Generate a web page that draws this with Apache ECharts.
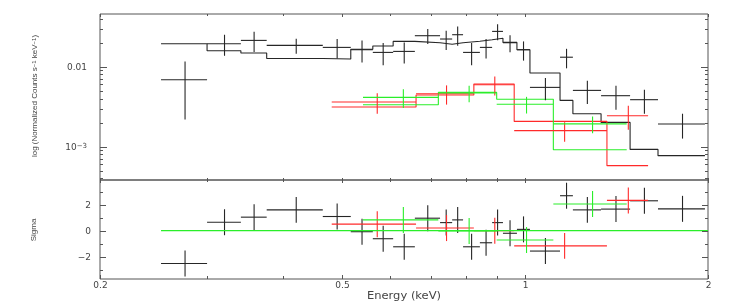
<!DOCTYPE html>
<html><head><meta charset="utf-8">
<script src="https://cdn.jsdelivr.net/npm/echarts@6/dist/echarts.min.js"></script>
<style>html,body{margin:0;padding:0;background:#fff}#c{width:747px;height:305px}</style>
</head><body><div id="c"></div>
<script>
// ---------- data (energies in keV) ----------
const blackLo = [0.252,0.300,0.341,0.376,0.465,0.517,0.562,0.607,0.659,0.725,0.759,0.791,0.843,0.883,0.920,0.970,1.019,1.142,1.199,1.334,1.489,1.655];
const blackHi = [0.300,0.341,0.376,0.465,0.517,0.562,0.607,0.659,0.725,0.759,0.791,0.843,0.883,0.920,0.970,1.019,1.142,1.199,1.334,1.489,1.655,1.977];
const blackE  = [0.276,0.3205,0.3585,0.4205,0.491,0.5395,0.5845,0.633,0.692,0.742,0.775,0.817,0.863,0.9015,0.945,0.9945,1.0805,1.1705,1.2665,1.4115,1.572,1.816];
const blackRate = [0.00688,0.01939,0.02132,0.01846,0.01743,0.01631,0.01509,0.01553,0.02441,0.02219,0.02512,0.01509,0.01743,0.02763,0.01995,0.01631,0.005512,0.01314,0.005055,0.00434,0.003868,0.001922];
const blackErr  = [0.0047,0.0057,0.006,0.0039,0.0048,0.005,0.0047,0.0046,0.0052,0.006,0.0068,0.0047,0.0048,0.0062,0.0048,0.0044,0.0017,0.0036,0.00163,0.00145,0.00129,0.00066];
const blackModel = [0.01939,0.01585,0.01484,0.01266,0.01248,0.01655,0.01814,0.02071,0.01995,0.01911,0.01995,0.02083,0.02175,0.02271,0.02013,0.01631,0.008345,0.00379,0.002585,0.002012,0.000925,0.000772];
const blackSigma = [-2.53,0.65,1.04,1.6,1.09,-0.08,-0.62,-1.24,0.96,0.62,0.83,-1.24,-0.93,0.62,-0.2,0.1,-1.57,2.69,1.6,1.66,2.3,1.68];

const redLo = [0.481,0.662,0.824,0.960,1.364];
const redHi = [0.662,0.824,0.960,1.364,1.594];
const redE  = [0.5715,0.743,0.892,1.162,1.479];
const redRate = [0.00362,0.004597,0.005957,0.001585,0.00244];
const redErr  = [0.00104,0.00124,0.0016,0.00043,0.00081];
const redModel = [0.003134,0.004428,0.006077,0.002071,0.000579];
const redSigma = [0.5,0.2,0.0,-1.17,2.33];

const greenLo = [0.5415,0.7203,0.8984,1.1134];
const greenHi = [0.7203,0.8984,1.1134,1.470];
const greenE  = [0.6309,0.8094,1.0059,1.2917];
const greenRate = [0.004132,0.004691,0.003398,0.001928];
const greenErr  = [0.00108,0.0011,0.0008,0.00046];
const greenModel = [0.00335,0.004773,0.003924,0.000917];
const greenSigma = [0.83,-0.02,-0.72,2.05];

const zeroLineE = [0.252, 2.0];

// ---------- axes / ticks ----------
const xMajorTicks = [0.2, 0.5, 1, 2];
const xMajorLabels = ['0.2', '0.5', '1', '2'];
const xMinorTicks = [0.3, 0.4, 0.6, 0.7, 0.8, 0.9];
const yTopMajorTicks = [0.01, 0.001];
const yTopMinorTicks = [0.04,0.03,0.02,0.009,0.008,0.007,0.006,0.005,0.004,0.003,0.002,0.0009,0.0008,0.0007,0.0006,0.0005,0.0004];
const sigMajorTicks = [2, 0, -2];
const sigMajorLabels = ['2', '0', '\u22122'];
const sigMinorTicks = [3, 1, -1, -3];

const X_MIN = 0.2, X_MAX = 2;
const TOP_MIN = 3.83e-4, TOP_MAX = 0.0456;
const SIG_MIN = -3.72, SIG_MAX = 3.9;

const BLACK = '#262626', RED = '#ff2a2a', GREEN = '#2aee2a', FRAME = '#555', TXT = '#444';
const FONT = 'DejaVu Sans';

function crossSeries(gi, color, e, lo, hi, y, err) {
  return {
    type: 'custom', xAxisIndex: gi, yAxisIndex: gi, clip: false, silent: true, z: 3,
    data: e.map((v, i) => [v, y[i], lo[i], hi[i], y[i] - err[i], y[i] + err[i]]),
    encode: { x: 0, y: 1 },
    renderItem(params, api) {
      const l = api.coord([api.value(2), api.value(1)]);
      const r = api.coord([api.value(3), api.value(1)]);
      const c = api.coord([api.value(0), api.value(1)]);
      const b = api.coord([api.value(0), api.value(4)]);
      const t = api.coord([api.value(0), api.value(5)]);
      return { type: 'group', children: [
        { type: 'line', shape: { x1: l[0], y1: c[1], x2: r[0], y2: c[1] }, style: { stroke: color, lineWidth: 1.1 } },
        { type: 'line', shape: { x1: c[0], y1: t[1], x2: c[0], y2: b[1] }, style: { stroke: color, lineWidth: 1.1 } }
      ]};
    }
  };
}
function stepSeries(gi, color, lo, hi, m) {
  const d = lo.map((v, i) => [v, m[i]]);
  d.push([hi[hi.length - 1], m[m.length - 1]]);
  return { type: 'line', xAxisIndex: gi, yAxisIndex: gi, step: 'end', data: d, showSymbol: false, symbol: 'none',
    silent: true, z: 2, lineStyle: { color: color, width: 1.1 }, animation: false };
}
function xTickSeries(gi, yRef, topLen, botLen, labels) {
  const data = xMajorTicks.map((v, i) => [v, yRef, 1, i]).concat(xMinorTicks.map(v => [v, yRef, 0, -1]));
  return {
    type: 'custom', xAxisIndex: gi, yAxisIndex: gi, clip: false, silent: true, z: 6,
    data, encode: { x: 0, y: 1 },
    renderItem(params, api) {
      const cs = params.coordSys;
      const major = api.value(2);
      const x = Math.round(api.coord([api.value(0), api.value(1)])[0]) + 0.5;
      const lt = topLen[major], lb = botLen[major];
      const ch = [
        { type: 'line', shape: { x1: x, y1: cs.y, x2: x, y2: cs.y + lt }, style: { stroke: FRAME, lineWidth: 1 } },
        { type: 'line', shape: { x1: x, y1: cs.y + cs.height - lb, x2: x, y2: cs.y + cs.height }, style: { stroke: FRAME, lineWidth: 1 } }
      ];
      if (labels && major) {
        ch.push({ type: 'text', x: x, y: cs.y + cs.height + 7, style: { text: xMajorLabels[api.value(3)], fill: TXT,
          font: '9px "' + FONT + '"', align: 'center', verticalAlign: 'middle' } });
      }
      return { type: 'group', children: ch };
    }
  };
}
function yTickSeries(gi, majors, minors, labels, len) {
  const data = majors.map((v, i) => [X_MIN, v, 1, i]).concat(minors.map(v => [X_MIN, v, 0, -1]));
  return {
    type: 'custom', xAxisIndex: gi, yAxisIndex: gi, clip: false, silent: true, z: 6,
    data, encode: { x: 0, y: 1 },
    renderItem(params, api) {
      const cs = params.coordSys;
      const major = api.value(2);
      const y = Math.round(api.coord([api.value(0), api.value(1)])[1]) + 0.5;
      const L = len[major];
      const ch = [
        { type: 'line', shape: { x1: cs.x, y1: y, x2: cs.x + L, y2: y }, style: { stroke: FRAME, lineWidth: 1 } },
        { type: 'line', shape: { x1: cs.x + cs.width - L, y1: y, x2: cs.x + cs.width, y2: y }, style: { stroke: FRAME, lineWidth: 1 } }
      ];
      if (major) {
        ch.push({ type: 'text', x: labels.x, y: y, style: { text: labels.t[api.value(3)], fill: TXT,
          font: '9px "' + FONT + '"', align: 'right', verticalAlign: 'middle',
          rich: { s: { fontSize: 7, fontFamily: FONT, fill: TXT, verticalAlign: 'top', lineHeight: 8 } } } });
      }
      return { type: 'group', children: ch };
    }
  };
}

const chart = echarts.init(document.getElementById('c'), null, { renderer: 'canvas' });
const hiddenAxis = { axisLine: { show: false }, axisTick: { show: false }, axisLabel: { show: false }, splitLine: { show: false } };
chart.setOption({
  animation: false,
  backgroundColor: '#fff',
  grid: [
    { left: 100, top: 14, width: 608, height: 166, show: true, borderColor: FRAME, borderWidth: 1, backgroundColor: 'transparent' },
    { left: 100, top: 180, width: 608, height: 99, show: true, borderColor: FRAME, borderWidth: 1, backgroundColor: 'transparent' }
  ],
  xAxis: [
    Object.assign({ type: 'log', logBase: 10, min: X_MIN, max: X_MAX, gridIndex: 0 }, hiddenAxis),
    Object.assign({ type: 'log', logBase: 10, min: X_MIN, max: X_MAX, gridIndex: 1 }, hiddenAxis)
  ],
  yAxis: [
    Object.assign({ type: 'log', logBase: 10, min: TOP_MIN, max: TOP_MAX, gridIndex: 0 }, hiddenAxis),
    Object.assign({ type: 'value', min: SIG_MIN, max: SIG_MAX, gridIndex: 1 }, hiddenAxis)
  ],
  graphic: [
    { type: 'text', x: 35, y: 96, rotation: Math.PI / 2, silent: true,
      style: { text: 'log (Normalized Counts s{s|\u22121} keV{s|\u22121})', fill: TXT, font: '8px "Liberation Sans"',
        align: 'center', verticalAlign: 'middle',
        rich: { s: { fontSize: 6, fontFamily: 'Liberation Sans', fill: TXT, verticalAlign: 'top', lineHeight: 6 } } } },
    { type: 'text', x: 34, y: 230, rotation: Math.PI / 2, silent: true,
      style: { text: 'Sigma', fill: TXT, font: '8px "Liberation Sans"', align: 'center', verticalAlign: 'middle' } },
    { type: 'text', x: 404, y: 296, scaleX: 1.15, silent: true,
      style: { text: 'Energy (keV)', fill: TXT, font: '10px "DejaVu Sans"', align: 'center', verticalAlign: 'middle' } }
  ],
  series: [
    stepSeries(0, BLACK, blackLo, blackHi, blackModel),
    crossSeries(0, BLACK, blackE, blackLo, blackHi, blackRate, blackErr),
    stepSeries(0, RED, redLo, redHi, redModel),
    crossSeries(0, RED, redE, redLo, redHi, redRate, redErr),
    stepSeries(0, GREEN, greenLo, greenHi, greenModel),
    crossSeries(0, GREEN, greenE, greenLo, greenHi, greenRate, greenErr),
    crossSeries(1, BLACK, blackE, blackLo, blackHi, blackSigma, blackSigma.map(() => 1)),
    crossSeries(1, RED, redE, redLo, redHi, redSigma, redSigma.map(() => 1)),
    { type: 'line', xAxisIndex: 1, yAxisIndex: 1, data: zeroLineE.map(v => [v, 0]), showSymbol: false, symbol: 'none',
      silent: true, z: 4, lineStyle: { color: GREEN, width: 1.1 } },
    crossSeries(1, GREEN, greenE, greenLo, greenHi, greenSigma, greenSigma.map(() => 1)),
    xTickSeries(0, TOP_MIN, [2, 3], [2, 2], false),
    xTickSeries(1, SIG_MIN, [2, 3], [3, 4], true),
    yTickSeries(0, yTopMajorTicks, yTopMinorTicks, { x: 87, t: ['0.01', '10{s|\u22123}'] }, [3, 7]),
    yTickSeries(1, sigMajorTicks, sigMinorTicks, { x: 91, t: sigMajorLabels }, [3, 6])
  ]
});
</script></body></html>
